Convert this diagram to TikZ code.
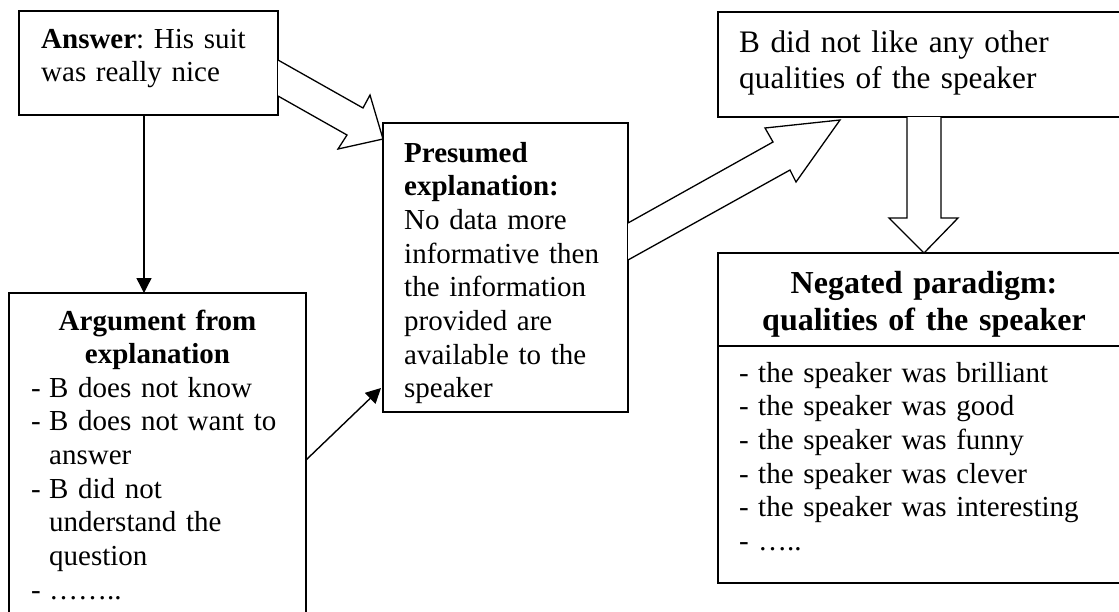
\documentclass[tikz,border=0pt]{standalone}
\usepackage{fontspec}
\setmainfont{Liberation Serif}
\frenchspacing
\usetikzlibrary{arrows.meta,calc}
\begin{document}
\begin{tikzpicture}[x=1pt,y=-1pt,
  box/.style={draw,line width=1.4pt,inner sep=0pt,outer sep=0pt},
  txt/.style={anchor=base west,inner sep=0pt,text width=#1,align=left,font=\fontsize{29}{33.7}\selectfont},
  bigtxt/.style={anchor=base west,inner sep=0pt,text width=#1,align=left,font=\fontsize{31.3}{36}\selectfont},
  head/.style={anchor=base,inner sep=0pt,text width=#1,align=center,font=\fontsize{29}{33.7}\selectfont\bfseries},
  bighead/.style={anchor=base,inner sep=0pt,text width=#1,align=center,font=\fontsize{32}{37}\selectfont\bfseries},
  thinarrow/.style={line width=1.4pt,-{Triangle[length=15pt,width=15pt]}},
  blockarrow/.style={draw,fill=white,line width=1.3pt,line join=miter}
]
\useasboundingbox (0,0) rectangle (1119,611);
\clip (0,0) rectangle (1119,611);

% boxes
\node[box,minimum width=259pt,minimum height=104pt] (ans) at (148.5,63) {};
\node[box,minimum width=297pt,minimum height=357pt] (arg) at (157.5,471.5) {};
\node[box,minimum width=245pt,minimum height=289pt] (pre) at (505.5,267.5) {};
\node[box,minimum width=417pt,minimum height=105pt] (top) at (926.5,64.5) {};
\node[box,minimum width=412pt,minimum height=330pt] (neg) at (924,418) {};
\coordinate (divl) at (718,346);
\draw[line width=1.4pt] (divl) -- (divl -| neg.east);

% texts
\node[txt=240pt] (ansT) at (41,48) {\textbf{Answer}: His suit\\was really nice};
\node[head=280pt] (argH) at (157.5,330) {Argument from\\explanation};
\node[txt=270pt] (argL) at (31,397) {\makebox[18pt][l]{-}B does not know\\
\makebox[18pt][l]{-}B does not want to\\
\hspace*{18pt}answer\\
\makebox[18pt][l]{-}B did not\\
\hspace*{18pt}understand the\\
\hspace*{18pt}question\\
\makebox[18pt][l]{-}……..};
\node[txt=225pt] (preT) at (404,162) {\textbf{Presumed}\\\textbf{explanation:}\\No data more\\informative then\\the information\\provided are\\available to the\\speaker};
\node[bigtxt=380pt] (topT) at (739,52) {B did not like any other\\qualities of the speaker};
\node[bighead=380pt] (negH) at (924,293) {Negated paradigm:\\qualities of the speaker};
\node[txt=370pt] (negL) at (739,382) {\makebox[19pt][l]{-}the speaker was brilliant\\
\makebox[19pt][l]{-}the speaker was good\\
\makebox[19pt][l]{-}the speaker was funny\\
\makebox[19pt][l]{-}the speaker was clever\\
\makebox[19pt][l]{-}the speaker was interesting\\
\makebox[19pt][l]{-}…..};

% thin arrows
\draw[thinarrow] ([xshift=-4.5pt]ans.south) -- ([xshift=-4.5pt]ans.south |- arg.north);
\draw[thinarrow] ([yshift=11.5pt]arg.east) -- ([xshift=-2pt,yshift=-120.5pt]pre.west);

% block arrows
\path[blockarrow] (278,60) -- (363,108) -- (370,95) -- (383,139) -- (338,149) -- (347,135) -- (278,96);
\path[blockarrow] (628,223) -- (773,142) -- (765,128) -- (840,120) -- (796,182) -- (790,170) -- (628,260);
\path[blockarrow] (907,117) -- (907,218) -- (889,218) -- (924,253) -- (958,218) -- (941,218) -- (941,117);
\end{tikzpicture}
\end{document}
